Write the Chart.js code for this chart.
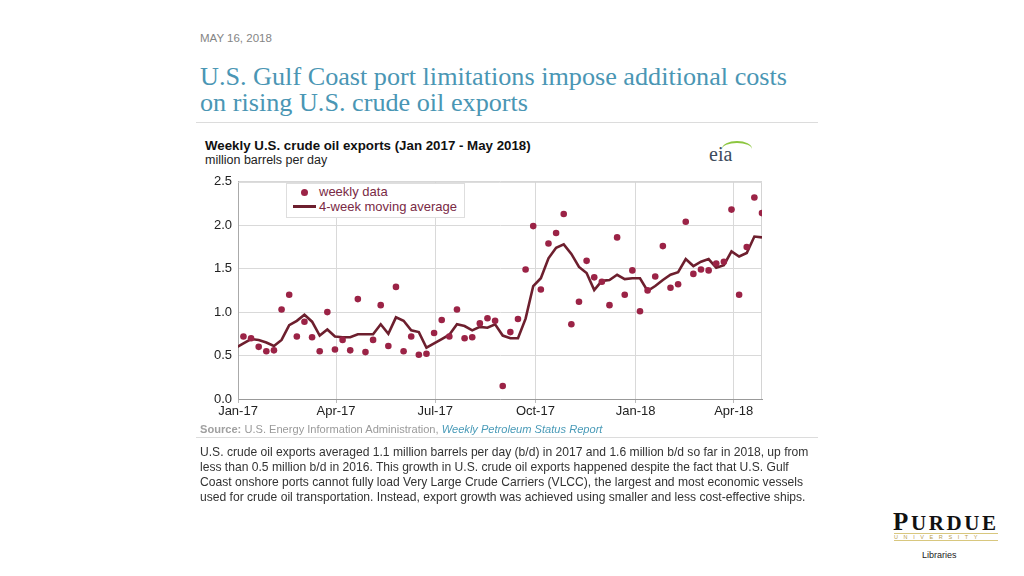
<!DOCTYPE html>
<html>
<head>
<meta charset="utf-8">
<script src="https://cdn.jsdelivr.net/npm/chart.js@4"></script>
<style>
  html, body { margin: 0; padding: 0; background: #fff; }
  body { width: 1024px; height: 576px; position: relative; overflow: hidden; font-family: "Liberation Sans", Arial, sans-serif; }
  .abs { position: absolute; white-space: nowrap; }
  #date { left: 200px; top: 32px; font-size: 11.5px; color: #858585; }
  #title { left: 200px; top: 64px; font-family: "Liberation Serif", "Times New Roman", serif; font-size: 26.2px; line-height: 26px; color: #4a96b4; }
  .rule { position: absolute; left: 196px; width: 622px; height: 1px; background: #dcdcdc; }
  #ctitle { left: 205px; top: 138px; font-size: 13.3px; font-weight: bold; color: #111; }
  #cunit { left: 205px; top: 153px; font-size: 12.5px; color: #222; }
  #eia { left: 709px; top: 143px; font-family: "Liberation Serif", serif; font-size: 20px; color: #3d4b5c; }
  #eiaarc { left: 722px; top: 141px; width: 30px; height: 14px; border-top: 2px solid #8cc63f; border-radius: 50% 50% 0 0; }
  #wrap { position: absolute; left: 200px; top: 168px; width: 570px; height: 256px; }
  #legend { position: absolute; left: 286px; top: 183px; width: 177px; height: 33px; border: 1px solid #dedede; background: #fff; font-size: 13px; color: #7a2a45; }
  #legend .row { position: absolute; left: 32px; }
  #legend .dot { position: absolute; left: 14px; top: 5px; width: 7px; height: 7px; border-radius: 50%; background: #9b2346; }
  #legend .ln { position: absolute; left: 6px; top: 21px; width: 23px; height: 3px; background: #6d1f2e; }
  #source { left: 200px; top: 423px; font-size: 11.1px; color: #9a9a9a; }
  #source b { color: #a0a0a0; }
  #source i { color: #4a9bb8; }
  #para { left: 200px; top: 445px; font-size: 12.1px; line-height: 15px; color: #333; }
  #purdue { left: 893px; top: 508px; font-family: "Liberation Serif", serif; font-weight: bold; font-size: 21px; color: #111; letter-spacing: 2.6px; }
  #purdue .big { font-size: 25px; }
  #univ { left: 894px; top: 533px; width: 104px; font-size: 5.5px; letter-spacing: 5.6px; color: #b9a04a; border-top: 1px solid #d8c77e; border-bottom: 1px solid #d8c77e; line-height: 6px; }
  #libs { left: 922px; top: 550px; font-size: 9px; color: #222; }
</style>
</head>
<body>
<div id="date" class="abs">MAY 16, 2018</div>
<div id="title" class="abs">U.S. Gulf Coast port limitations impose additional costs<br>on rising U.S. crude oil exports</div>
<div class="rule" style="top:122px"></div>
<div id="ctitle" class="abs">Weekly U.S. crude oil exports (Jan 2017 - May 2018)</div>
<div id="cunit" class="abs">million barrels per day</div>
<div id="eiaarc" class="abs"></div>
<div id="eia" class="abs">eia</div>
<div id="wrap"><canvas id="chart" width="570" height="256"></canvas></div>
<div id="legend">
  <span class="dot"></span><span class="row" style="top:0px">weekly data</span>
  <span class="ln"></span><span class="row" style="top:15px">4-week moving average</span>
</div>
<div id="source" class="abs"><b>Source:</b> U.S. Energy Information Administration, <i>Weekly Petroleum Status Report</i></div>
<div class="rule" style="top:437px"></div>
<div id="para" class="abs">U.S. crude oil exports averaged 1.1 million barrels per day (b/d) in 2017 and 1.6 million b/d so far in 2018, up from<br>less than 0.5 million b/d in 2016. This growth in U.S. crude oil exports happened despite the fact that U.S. Gulf<br>Coast onshore ports cannot fully load Very Large Crude Carriers (VLCC), the largest and most economic vessels<br>used for crude oil transportation. Instead, export growth was achieved using smaller and less cost-effective ships.</div>
<div id="purdue" class="abs"><span class="big">P</span>URDUE</div>
<div id="univ" class="abs">UNIVERSITY</div>
<div id="libs" class="abs">Libraries</div>

<script>
// weekly exports, weeks ending Jan 6, 2017 ... Apr 27, 2018 (million b/d)
const weeklyData = [
  0.72, 0.70, 0.60, 0.55, 0.56, 1.03, 1.20, 0.72, 0.89, 0.71,
  0.55, 1.00, 0.57, 0.68, 0.56, 1.15, 0.54, 0.68, 1.08, 0.61,
  1.29, 0.55, 0.72, 0.51, 0.52, 0.76, 0.91, 0.72, 1.03, 0.70,
  0.71, 0.87, 0.93, 0.90, 0.15, 0.77, 0.92, 1.49, 1.99, 1.26,
  1.79, 1.91, 2.13, 0.86, 1.12, 1.59, 1.40, 1.35, 1.08, 1.86,
  1.20, 1.48, 1.01, 1.25, 1.41, 1.76, 1.28, 1.32, 2.04, 1.44,
  1.49, 1.48, 1.56, 1.58, 2.18, 1.20, 1.75, 2.32, 2.14
];
// 4-week moving average, starting one week earlier (Dec 30, 2016)
const movingAvg = [
  0.59, 0.64, 0.69, 0.68, 0.65, 0.61, 0.68, 0.85, 0.90, 0.97,
  0.89, 0.73, 0.80, 0.72, 0.71, 0.71, 0.745, 0.745, 0.745, 0.86,
  0.75, 0.94, 0.90, 0.79, 0.77, 0.59, 0.64, 0.69, 0.74, 0.86,
  0.84, 0.79, 0.83, 0.82, 0.86, 0.73, 0.70, 0.70, 0.925, 1.30,
  1.39, 1.62, 1.74, 1.78, 1.67, 1.52, 1.45, 1.255, 1.36, 1.37,
  1.43, 1.38, 1.39, 1.39, 1.245, 1.30, 1.37, 1.43, 1.46, 1.61,
  1.53, 1.58, 1.61, 1.51, 1.54, 1.70, 1.64, 1.68, 1.87, 1.86
];
const xTickLabels = ['Jan-17', 'Apr-17', 'Jul-17', 'Oct-17', 'Jan-18', 'Apr-18'];
const xTickDays = [0, 90, 181, 273, 365, 455];   // days after Jan 1, 2017
const yTicks = [0, 0.5, 1.0, 1.5, 2.0, 2.5];

const firstWeekDay = 5;   // Jan 6, 2017
const weekPts = weeklyData.map((v, i) => ({ x: firstWeekDay + 7 * i, y: v }));
const avgPts = movingAvg.map((v, i) => ({ x: firstWeekDay + 7 * (i - 1), y: v }));

const frame = {
  id: 'frame',
  beforeDatasetsDraw(chart) {
    const a = chart.chartArea, c = chart.ctx;
    c.save();
    c.strokeStyle = '#d4d4d4';
    c.lineWidth = 1;
    c.beginPath();
    c.moveTo(a.left, a.top + 0.5);
    c.lineTo(a.right - 0.5, a.top + 0.5);
    c.lineTo(a.right - 0.5, a.bottom);
    c.stroke();
    c.restore();
  }
};

new Chart(document.getElementById('chart'), {
  type: 'line',
  data: {
    datasets: [
      {
        label: 'weekly data',
        data: weekPts,
        showLine: false,
        pointRadius: 3.3,
        pointBackgroundColor: '#9b2346',
        pointBorderWidth: 0
      },
      {
        label: '4-week moving average',
        data: avgPts,
        borderColor: '#6d1f2e',
        borderWidth: 2.6,
        pointRadius: 0,
        tension: 0,
        clip: 0
      }
    ]
  },
  options: {
    responsive: false,
    animation: false,
    events: [],
    layout: { padding: { top: 9, right: 8, left: 0, bottom: 0 } },
    plugins: { legend: { display: false }, tooltip: { enabled: false } },
    scales: {
      x: {
        type: 'linear',
        min: 0,
        max: 481,
        afterBuildTicks: s => { s.ticks = xTickDays.map(v => ({ value: v })); },
        afterFit: s => { s.height = 25; },
        ticks: {
          autoSkip: false,
          maxRotation: 0,
          padding: 1,
          color: '#222',
          font: { family: 'Liberation Sans', size: 13 },
          callback: v => xTickLabels[xTickDays.indexOf(v)]
        },
        grid: { color: '#d9d9d9', tickLength: 4, tickColor: '#bbb' },
        border: { color: '#999', width: 1 }
      },
      y: {
        min: 0,
        max: 2.5,
        afterBuildTicks: s => { s.ticks = yTicks.map(v => ({ value: v })); },
        afterFit: s => { s.width = 38; },
        ticks: {
          padding: 6,
          color: '#222',
          font: { family: 'Liberation Sans', size: 13 },
          callback: v => v.toFixed(1)
        },
        grid: { color: '#d9d9d9', drawTicks: false },
        border: { color: '#aaa', width: 1 }
      }
    }
  },
  plugins: [frame]
});
</script>
</body>
</html>
